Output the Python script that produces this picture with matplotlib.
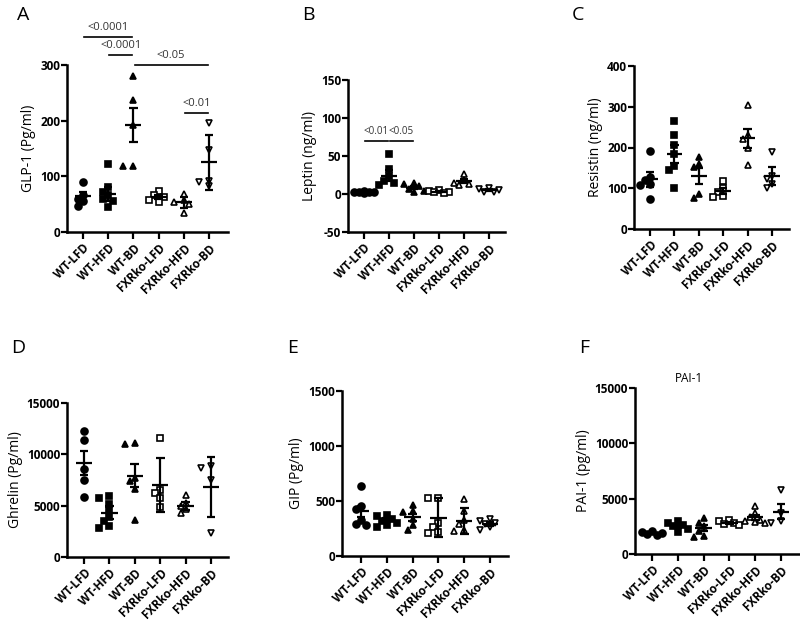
import matplotlib
matplotlib.use("Agg")
import matplotlib.pyplot as plt
import numpy as np

plt.rcParams.update({
    "font.family": ["Open Sans", "DejaVu Sans"],
    "axes.spines.top": False,
    "axes.spines.right": False,
    "axes.linewidth": 1.8,
})

groups = ["WT-LFD", "WT-HFD", "WT-BD", "FXRko-LFD", "FXRko-HFD", "FXRko-BD"]

# -- data ----------------------------------------------------------------------
glp1_pts = [[90, 67, 60, 55, 47],
            [123, 80, 72, 66, 56, 45, 60],
            [280, 238, 192, 119, 119],
            [74, 66, 62, 58, 54],
            [68, 57, 53, 50, 35],
            [195, 148, 92, 90, 82]]
glp1_mean = [64, 68, 192, 63, 53, 125]
glp1_err = [7, 12, 31, 4, 9, 50]

leptin_pts = [[1, 2, 3, 3, 4, 2],
              [52, 33, 24, 17, 14, 12],
              [14, 13, 10, 7, 4, 3],
              [5, 4, 3, 2, 1],
              [26, 18, 15, 13, 12],
              [8, 7, 5, 3, 2]]
leptin_mean = [2.5, 24, 8, 3, 17, 5]
leptin_err = [0.5, 7, 2, 1, 3, 1]

resistin_pts = [[192, 127, 120, 110, 107, 74],
                [265, 230, 207, 185, 155, 145, 100],
                [177, 160, 152, 86, 76],
                [117, 100, 90, 82, 78],
                [305, 230, 222, 200, 157],
                [190, 130, 122, 110, 100]]
resistin_mean = [122, 184, 130, 93, 223, 130]
resistin_err = [18, 21, 19, 8, 23, 22]

ghrelin_pts = [[12300, 11400, 8600, 7500, 5800],
               [5900, 5700, 5200, 4600, 3900, 3500, 3000, 2800],
               [11150, 11050, 7650, 7400, 6600, 3650],
               [11600, 6550, 6250, 5750, 4900],
               [6000, 5300, 5000, 4700, 4300],
               [8700, 8900, 7500, 2300]]
ghrelin_mean = [9150, 4330, 7920, 7010, 4950, 6800]
ghrelin_err = [1200, 600, 1150, 2600, 400, 2950]

gip_pts = [[635, 455, 425, 330, 280, 290],
           [370, 360, 340, 320, 300, 280, 260],
           [460, 410, 400, 340, 280, 240],
           [530, 525, 300, 260, 215, 210],
           [520, 410, 330, 290, 240, 230],
           [340, 320, 300, 290, 260, 240]]
gip_mean = [405, 325, 352, 350, 320, 292]
gip_err = [50, 20, 30, 175, 120, 20]

pai1_pts = [[2100, 2000, 1900, 1850, 1750],
            [3000, 2800, 2600, 2500, 2300, 2000],
            [3250, 2800, 2500, 2100, 1550, 1600],
            [3100, 2950, 2800, 2700, 2600],
            [4300, 3700, 3300, 3100, 3000, 2900, 2800],
            [5800, 3700, 3000, 2800]]
pai1_mean = [1900, 2530, 2330, 2830, 3300, 3840]
pai1_err = [80, 150, 260, 100, 200, 650]

# significance annotations: (from group, to group, y level, label)
glp1_sig = [(0, 2, 350, "<0.0001"), (1, 2, 318, "<0.0001"),
            (2, 5, 300, "<0.05"), (4, 5, 214, "<0.01")]
leptin_sig = [(0, 1, 70, "<0.01"), (1, 2, 70, "<0.05")]

# marker styles per group
markers = [("o", "black"), ("s", "black"), ("^", "black"),
           ("s", "white"), ("^", "white"), ("v", "white")]

# -- panel layout (pixels on the 800x622 canvas) -------------------------------
W, H = 800, 622
panels = [
    # letter, pts, mean, err, sig, sig font, ylabel, ylim, yticks, box(l, r, top, bottom), xlim, title, letter pos
    ("A", glp1_pts, glp1_mean, glp1_err, glp1_sig, 8, "GLP-1 (Pg/ml)",
     (0, 300), [0, 100, 200, 300], (67, 228, 65, 232), (-0.63, 5.75), None, (17, 15)),
    ("B", leptin_pts, leptin_mean, leptin_err, leptin_sig, 7, "Leptin (ng/ml)",
     (-50, 150), [-50, 0, 50, 100, 150], (348, 505, 80, 232), (-0.64, 5.64), None, (302, 15)),
    ("C", resistin_pts, resistin_mean, resistin_err, [], 8, "Resistin (ng/ml)",
     (0, 400), [0, 100, 200, 300, 400], (634, 789, 66, 229), (-0.66, 5.7), None, (572, 15)),
    ("D", ghrelin_pts, ghrelin_mean, ghrelin_err, [], 8, "Ghrelin (Pg/ml)",
     (0, 15000), [0, 5000, 10000, 15000], (67, 228, 403, 557), (-0.67, 5.67), None, (11, 348)),
    ("E", gip_pts, gip_mean, gip_err, [], 8, "GIP (Pg/ml)",
     (0, 1500), [0, 500, 1000, 1500], (342, 508, 391, 556), (-0.74, 5.7), None, (287, 348)),
    ("F", pai1_pts, pai1_mean, pai1_err, [], 8, "PAI-1 (pg/ml)",
     (0, 15000), [0, 5000, 10000, 15000], (635, 800, 388, 554), (-0.66, 5.74), "PAI-1", (579, 348)),
]


def swarm(vals, px_per_unit, px_per_cat, diam=5.5):
    """small deterministic beeswarm; offsets in category units, kept narrow"""
    order = np.argsort(vals)[::-1]
    placed = []
    offs = np.zeros(len(vals))
    step = 5.0 / px_per_cat
    cands = [0, -step, step, -2 * step, 2 * step]
    for i in order:
        y = vals[i] * px_per_unit
        best, best_d = 0, -1
        for c in cands:
            d = min([np.hypot(c * px_per_cat - px, y - py) for px, py in placed] or [99])
            if d >= diam:
                best = c
                break
            if d > best_d:
                best, best_d = c, d
        offs[i] = best
        placed.append((best * px_per_cat, y))
    return offs


fig = plt.figure(figsize=(8, 6.22), dpi=100)

for (letter, pts, mean, err, sig, sfs, ylabel, ylim, yticks, box, xlim, title, lpos) in panels:
    l, r, t, b = box
    ax = fig.add_axes([l / W, 1 - b / H, (r - l) / W, (b - t) / H])
    ax.set_xlim(*xlim)
    ax.set_ylim(*ylim)
    px_per_unit = (b - t) / (ylim[1] - ylim[0])
    px_per_cat = (r - l) / (xlim[1] - xlim[0])

    for i, vals in enumerate(pts):
        mk, fc = markers[i]
        offs = swarm(np.array(vals, float), px_per_unit, px_per_cat)
        ax.plot(i + offs, vals, linestyle="none", marker=mk, ms=5,
                mfc=fc, mec="black", mew=1.2, zorder=3, clip_on=False)
        m, e = mean[i], err[i]
        ax.hlines(m, i - 0.32, i + 0.32, color="black", lw=1.6, zorder=4)
        ax.vlines(i, m - e, m + e, color="black", lw=1.6, zorder=4)
        ax.hlines([m - e, m + e], i - 0.17, i + 0.17, color="black", lw=1.6, zorder=4)

    for g0, g1, yv, lbl in sig:
        ax.plot([g0 + 0.05, g1 - 0.05], [yv, yv], color="black", lw=1.2, clip_on=False)
        ax.text((g0 + g1) / 2, yv + 4 / px_per_unit, lbl, ha="center", va="bottom",
                fontsize=sfs, color="#333333")

    ax.set_xticks(range(len(groups)))
    ax.set_xticklabels(groups, rotation=45, ha="right", rotation_mode="anchor",
                       fontsize=8.5, fontweight="bold")
    ax.set_yticks(yticks)
    ax.set_yticklabels([str(v) for v in yticks], fontsize=8.5, fontweight="bold")
    ax.tick_params(axis="x", length=5, width=1.6, pad=2)
    ax.tick_params(axis="y", length=4, width=1.6, pad=1)
    ax.set_ylabel(ylabel, fontsize=10, labelpad=3)
    if title:
        ax.set_title(title, fontsize=8.5, pad=4, x=0.33)
    fig.text(lpos[0] / W, 1 - lpos[1] / H, letter, fontsize=14, ha="left", va="center")

fig.savefig("out.png", dpi=100)
